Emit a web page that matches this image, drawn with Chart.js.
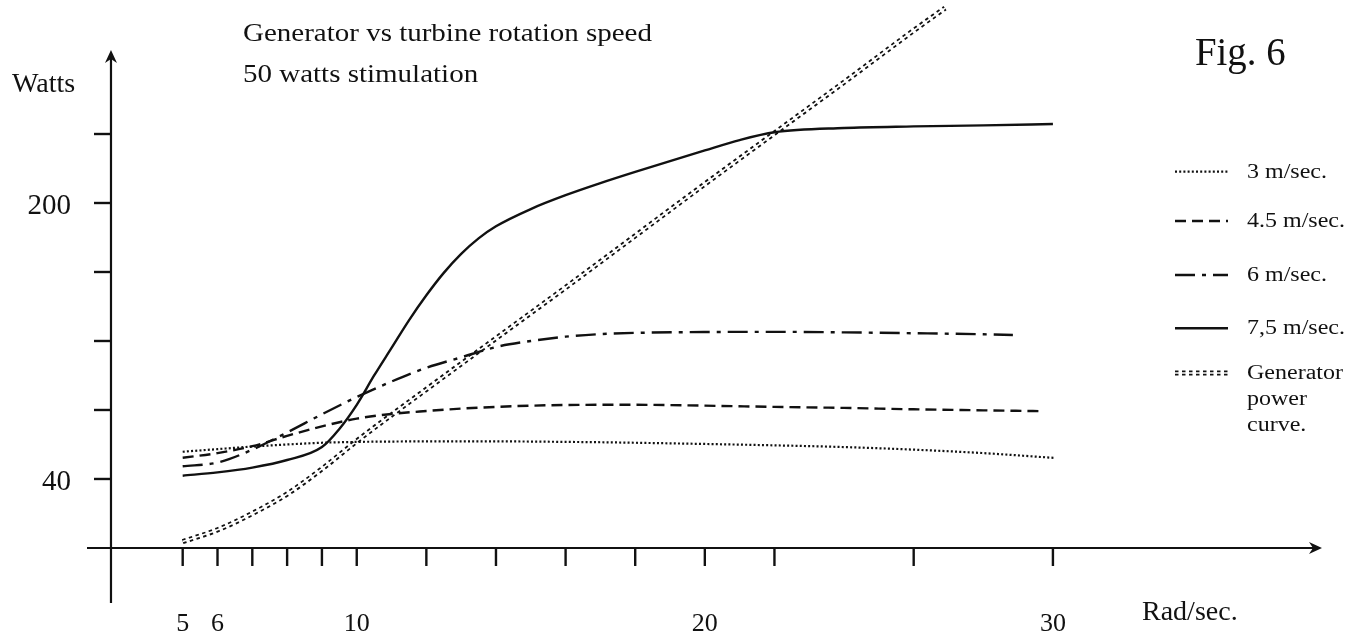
<!DOCTYPE html>
<html>
<head>
<meta charset="utf-8">
<title>Fig. 6</title>
<script src="https://cdn.jsdelivr.net/npm/chart.js@4.4.1/dist/chart.umd.min.js"></script>
<style>
  body { margin: 0; background: #fff; }
  #wrap { width: 1359px; height: 639px; position: relative; }
</style>
</head>
<body>
<div id="wrap"><canvas id="fig6"></canvas></div>
<script>
// values (rad/sec -> watts)
const rad3 = [5, 6, 7, 8, 9, 10, 11, 12, 13, 14, 15, 16, 17, 18, 20, 22, 24, 26, 28, 30.05];
const watt3 = [55.8, 57.3, 58.8, 60.0, 61.0, 61.5, 61.7, 61.8, 61.8, 61.8, 61.7, 61.5, 61.3, 61.0, 60.3, 59.5, 58.5, 57.0, 55.0, 52.2];

const rad45 = [5, 6, 7, 8, 9, 10, 11, 12, 13, 14, 15, 16, 17, 18, 20, 22, 24, 26, 28, 29.7];
const watt45 = [52.3, 55.0, 59.0, 65.0, 70.5, 75.0, 77.7, 79.4, 80.8, 81.8, 82.5, 82.9, 83.0, 83.0, 82.5, 81.8, 81.2, 80.4, 79.8, 79.3];

const rad6 = [5, 6, 7, 8, 9, 10, 11, 12, 13, 14, 15, 16, 17, 18, 20, 22, 24, 26, 28, 28.85];
const watt6 = [47.4, 49.5, 57.0, 67.0, 77.5, 87.5, 96.5, 104.5, 110.5, 116.5, 120.0, 122.5, 124.0, 124.7, 125.2, 125.3, 125.0, 124.5, 123.9, 123.5];

const rad75 = [5, 6, 7, 8, 9, 9.5, 10, 10.5, 11, 11.5, 12, 12.5, 13, 13.5, 14, 15, 16, 17, 18, 20, 21, 22, 24, 26, 28, 30];
const watt75 = [41.9, 43.8, 46.6, 51.0, 58.5, 69.0, 83.0, 100.0, 116.0, 132.0, 146.5, 159.5, 170.5, 179.5, 186.5, 196.5, 204.5, 211.5, 218.0, 230.5, 236.5, 241.0, 243.5, 244.4, 245.0, 245.8];

const radGen = [5, 6, 7, 8, 9, 10, 12, 14, 16, 18, 20, 22, 24, 26, 26.9];
const wattGen = [3.7, 10.5, 20.0, 31.3, 45.8, 62.0, 92.0, 121.5, 151.0, 181.0, 211.0, 240.5, 270.0, 300.0, 313.0];

// axes: ticks and the few labels printed on them
const xTicks = [5, 6, 7, 8, 9, 10, 12, 14, 16, 18, 20, 22, 26, 30];
const xLabels = [5, 6, 10, 20, 30];
const yTicks = [40, 80, 120, 160, 200, 240];
const yLabels = [40, 200];
const yAxisAt = 2.94; // rad/sec where the vertical axis crosses

const legendNames = ["3 m/sec.", "4.5 m/sec.", "6 m/sec.", "7,5 m/sec.", "Generator\npower\ncurve."];

const ink = "#111";
const serif = "'Liberation Serif', 'Times New Roman', serif";

function points(xs, ys) {
  return xs.map((v, i) => ({ x: v, y: ys[i] }));
}

// text with horizontal stretch (the scan is wider than tall)
function drawText(ctx, str, x, y, size, sx, align) {
  ctx.save();
  ctx.font = `${size}px ${serif}`;
  ctx.fillStyle = ink;
  ctx.textBaseline = "alphabetic";
  ctx.textAlign = align || "left";
  ctx.translate(x, y);
  ctx.scale(sx, 1);
  ctx.fillText(str, 0, 0);
  ctx.restore();
}

function arrowHead(ctx, tx, ty, dx, dy) {
  const len = 13, half = 6, notch = 4;
  const px = -dy, py = dx;
  ctx.beginPath();
  ctx.moveTo(tx, ty);
  ctx.lineTo(tx - dx * len + px * half, ty - dy * len + py * half);
  ctx.lineTo(tx - dx * (len - notch), ty - dy * (len - notch));
  ctx.lineTo(tx - dx * len - px * half, ty - dy * len - py * half);
  ctx.closePath();
  ctx.fill();
}

const axisPlugin = {
  id: "axisPlugin",
  beforeDatasetsDraw(chart) {
    const ctx = chart.ctx;
    const sx = chart.scales.x;
    const sy = chart.scales.y;
    const area = chart.chartArea;
    const x0 = sx.getPixelForValue(yAxisAt);
    const y0 = sy.getPixelForValue(0);

    ctx.save();
    ctx.strokeStyle = ink;
    ctx.fillStyle = ink;
    ctx.lineWidth = 2.2;
    ctx.lineCap = "butt";

    // horizontal axis
    ctx.beginPath();
    ctx.moveTo(area.left, y0);
    ctx.lineTo(area.right - 6, y0);
    ctx.stroke();
    arrowHead(ctx, area.right, y0, 1, 0);

    // vertical axis
    ctx.beginPath();
    ctx.moveTo(x0, area.bottom);
    ctx.lineTo(x0, area.top + 6);
    ctx.stroke();
    arrowHead(ctx, x0, area.top, 0, -1);

    ctx.lineWidth = 2.4;
    for (const t of xTicks) {
      const px = sx.getPixelForValue(t);
      ctx.beginPath();
      ctx.moveTo(px, y0);
      ctx.lineTo(px, y0 + 18);
      ctx.stroke();
    }
    for (const t of yTicks) {
      const py = sy.getPixelForValue(t);
      ctx.beginPath();
      ctx.moveTo(x0 - 17, py);
      ctx.lineTo(x0, py);
      ctx.stroke();
    }
    ctx.restore();

    for (const t of xLabels) {
      drawText(ctx, String(t), sx.getPixelForValue(t), 631, 26, 1.0, "center");
    }
    for (const t of yLabels) {
      drawText(ctx, String(t), 71, sy.getPixelForValue(t) + 11, 29, 1.0, "right");
    }
  },
  afterDraw(chart) {
    const ctx = chart.ctx;
    drawText(ctx, "Generator vs turbine rotation speed", 243, 41, 26, 1.115);
    drawText(ctx, "50 watts stimulation", 243, 82, 26, 1.115);
    drawText(ctx, "Watts", 12, 92, 27, 1.04);
    drawText(ctx, "Fig. 6", 1195, 65, 40, 0.97);
    drawText(ctx, "Rad/sec.", 1142, 620, 28, 1.0);

    // legend on the right
    const rowY = [171.7, 221, 275, 328.3, 373];
    const sets = chart.data.datasets.filter((d) => d.legendRow !== undefined);
    for (const ds of sets) {
      const ly = rowY[ds.legendRow];
      ctx.save();
      ctx.strokeStyle = ds.borderColor;
      ctx.lineWidth = ds.borderWidth;
      ctx.setLineDash(ds.borderDash || []);
      ctx.beginPath();
      ctx.moveTo(1175, ly);
      ctx.lineTo(1228, ly);
      ctx.stroke();
      if (ds.gapWidth) {
        // white core splits the thick dash into "=" marks
        ctx.setLineDash([]);
        ctx.strokeStyle = "#fff";
        ctx.lineWidth = ds.gapWidth;
        ctx.beginPath();
        ctx.moveTo(1173, ly);
        ctx.lineTo(1230, ly);
        ctx.stroke();
      }
      ctx.restore();
      const lines = legendNames[ds.legendRow].split("\n");
      lines.forEach((s, i) => {
        drawText(ctx, s, 1247, ly + 6 + i * 26, 20, 1.2);
      });
    }
  },
};

const lineBase = {
  borderColor: ink,
  pointRadius: 0,
  cubicInterpolationMode: "monotone",
  borderCapStyle: "butt",
  order: 1,
};

new Chart(document.getElementById("fig6"), {
  type: "line",
  data: {
    datasets: [
      { ...lineBase, label: legendNames[0], data: points(rad3, watt3), borderWidth: 2.2, borderDash: [2, 2.2], legendRow: 0 },
      { ...lineBase, label: legendNames[1], data: points(rad45, watt45), borderWidth: 2.4, borderDash: [11, 6], legendRow: 1 },
      { ...lineBase, label: legendNames[2], data: points(rad6, watt6), borderWidth: 2.4, borderDash: [20, 7, 4, 7], legendRow: 2 },
      { ...lineBase, label: legendNames[3], data: points(rad75, watt75), borderWidth: 2.4, legendRow: 3 },
      { ...lineBase, label: legendNames[4], data: points(radGen, wattGen), borderColor: "#111", borderWidth: 5.2, borderDash: [3.5, 3.5], gapWidth: 1.6, clip: false, order: 11, legendRow: 4 },
      { ...lineBase, label: "gap", data: points(radGen, wattGen), borderColor: "#fff", borderWidth: 1.6, clip: false, order: 10 },
    ],
  },
  options: {
    responsive: true,
    maintainAspectRatio: false,
    animation: false,
    events: [],
    layout: { padding: { left: 87, right: 37, top: 50, bottom: 36 } },
    plugins: { legend: { display: false }, title: { display: false }, tooltip: { enabled: false } },
    scales: {
      x: { type: "linear", min: 2.251, max: 37.73, display: false },
      y: { type: "linear", min: -31.9, max: 288.7, display: false },
    },
  },
  plugins: [axisPlugin],
});
</script>
</body>
</html>
